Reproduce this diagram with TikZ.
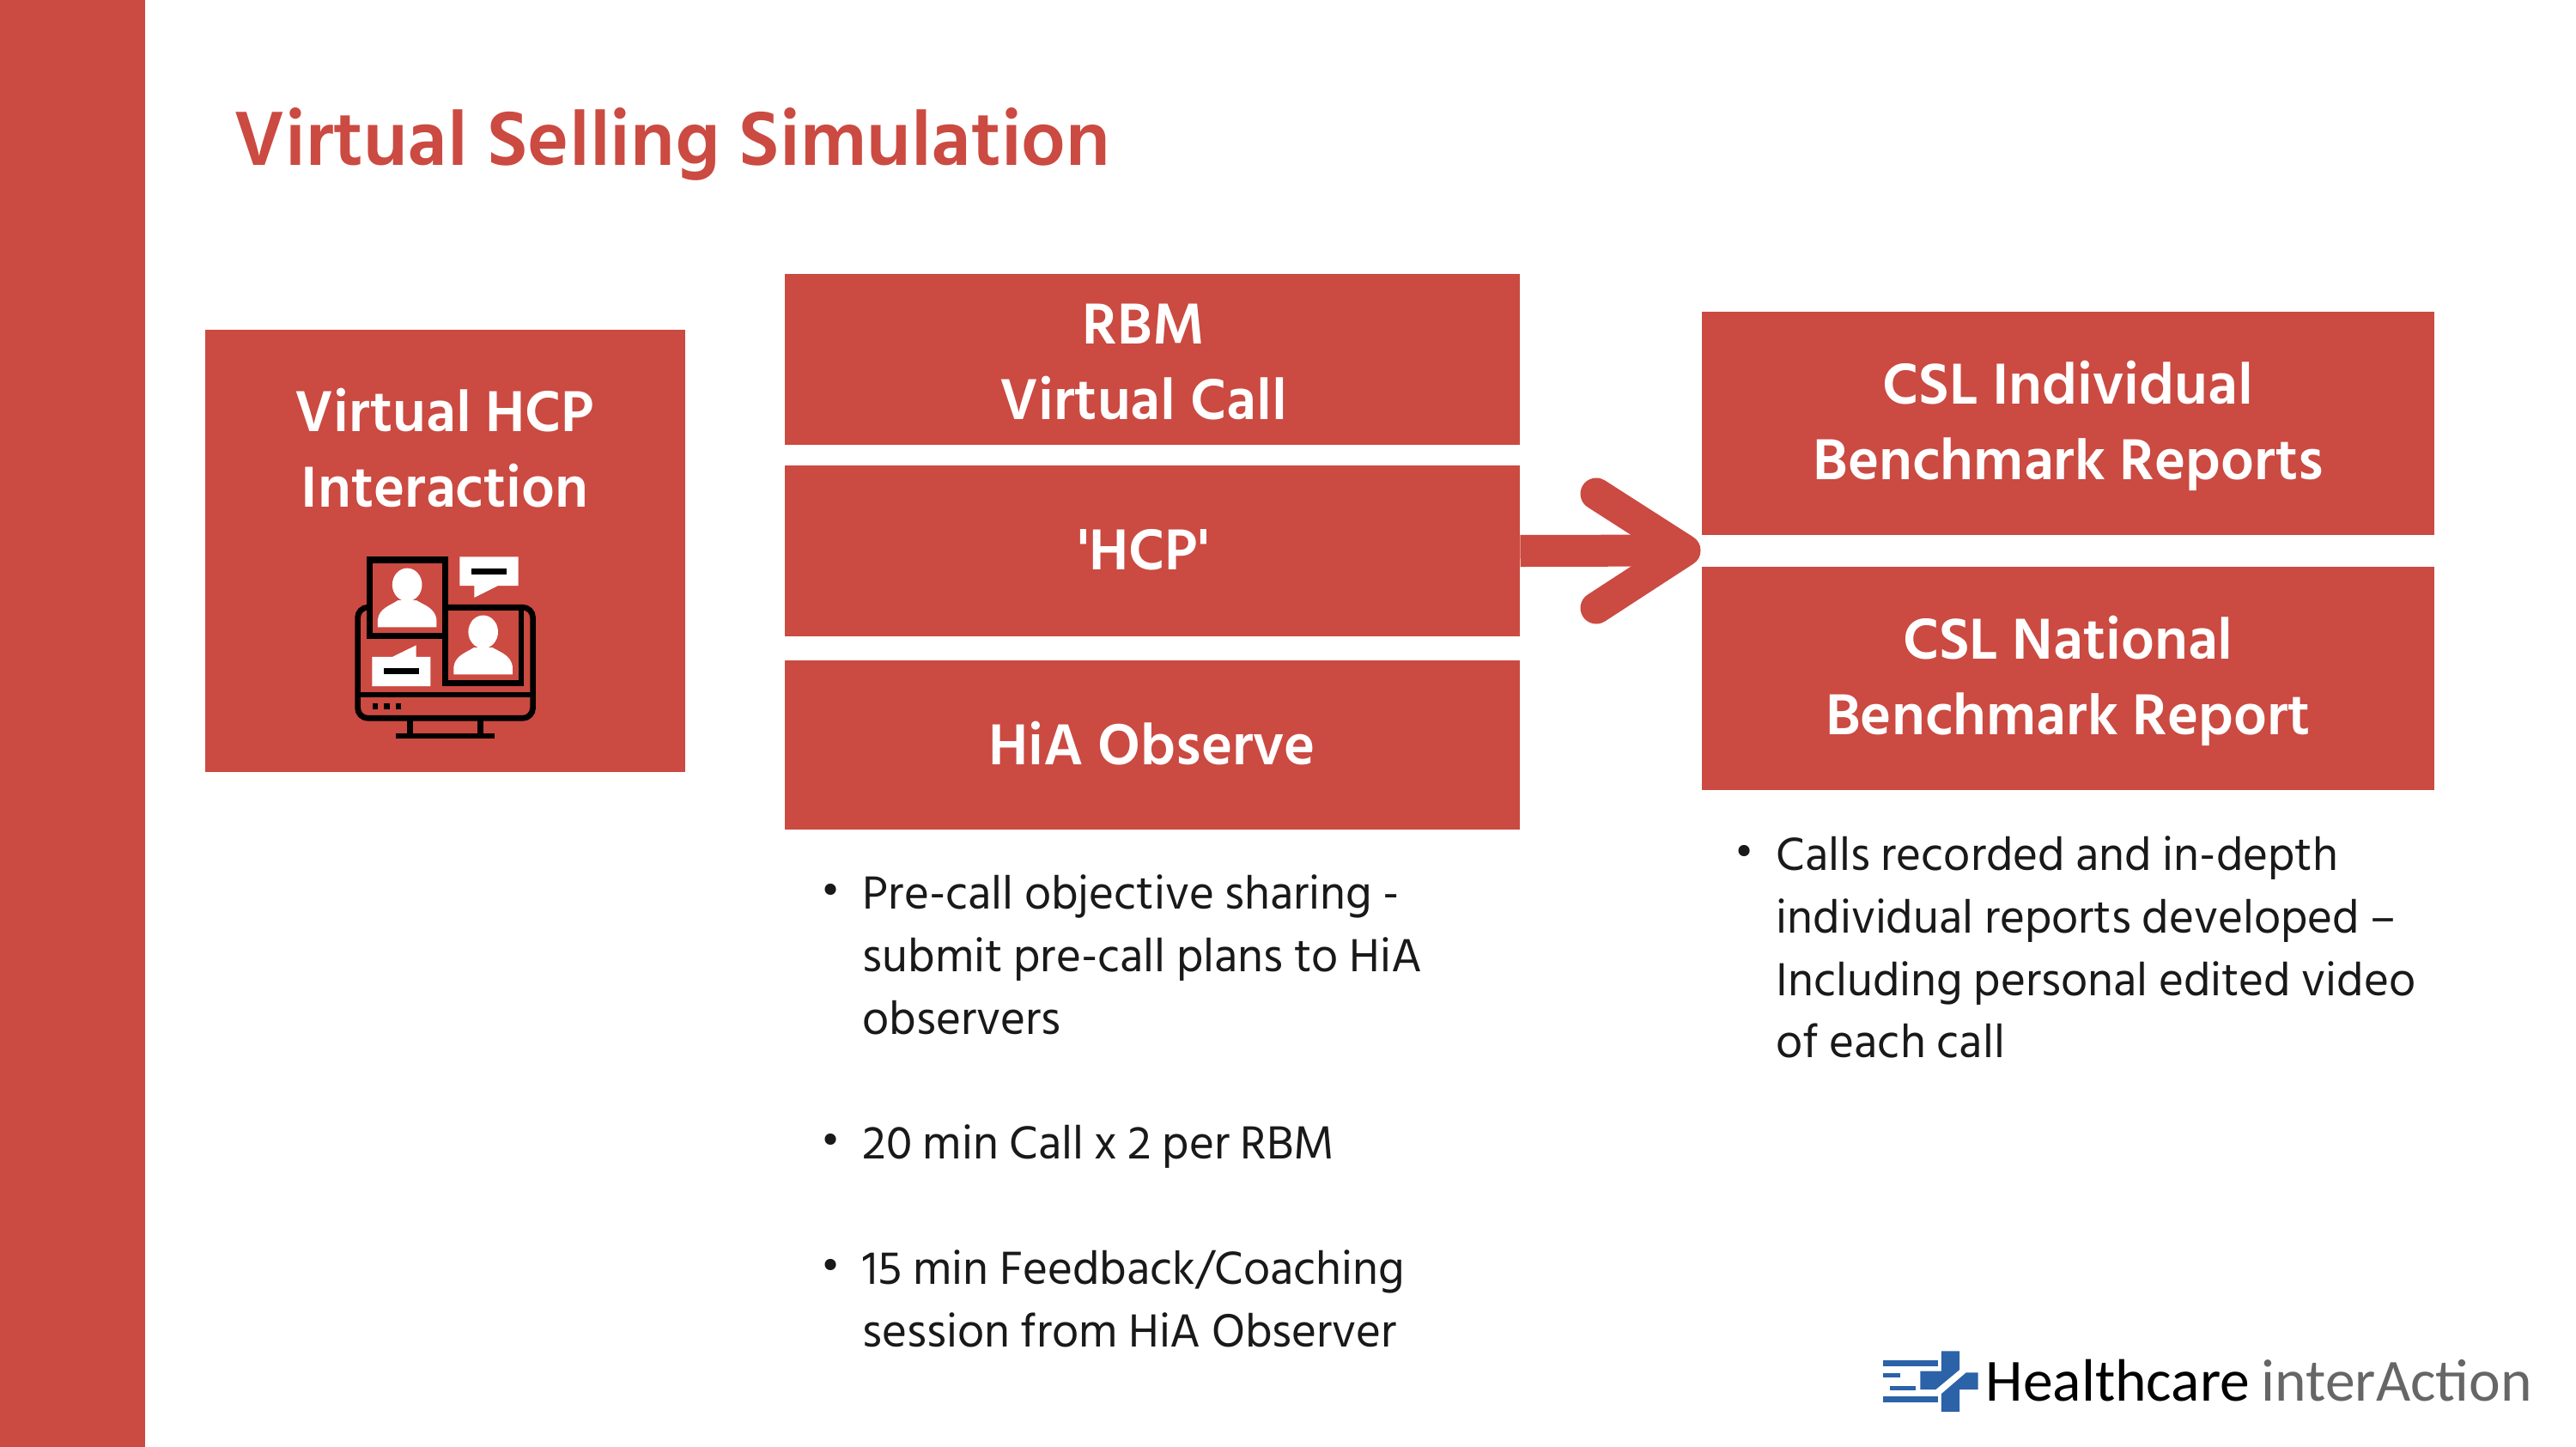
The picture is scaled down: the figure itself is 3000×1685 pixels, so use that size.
\documentclass[tikz,border=0pt]{standalone}
\usepackage{fontspec}
\setmainfont{Hind Siliguri}
\newfontfamily\logofont{Carlito}
\definecolor{slidered}{HTML}{CB4A41}
\definecolor{logoblue}{HTML}{2B62A8}
\definecolor{logogray}{HTML}{666666}
\tikzset{
  redbox/.style={fill=slidered,inner sep=0pt},
  boxlabel/.style={text=white,inner sep=0pt,align=center,font=\fontsize{19.6}{25}\selectfont\bfseries},
  bodytext/.style={anchor=north west,inner sep=0pt,align=left,text=black!90,font=\fontsize{15.78}{20.7}\selectfont},
  bulletdot/.style={inner sep=0pt,text=black!90,font=\fontsize{14}{20.7}\selectfont},
  iconline/.style={draw=black,line width=0.067cm},
}
\begin{document}
\begin{tikzpicture}[x=0.01cm,y=-0.01cm] % One unit is one pixel of the slide

% Fix the slide size
\useasboundingbox (0,0) rectangle (3000,1685);

% Draw the side bar
\fill[slidered] (0,0) rectangle (169,1685);

% Draw the title
\node[anchor=west,inner sep=0pt,text=slidered,font=\fontsize{26.05}{30}\selectfont\bfseries] (title) at (272,168) {Virtual Selling Simulation};

% Draw the boxes
\node[redbox,minimum width=5.59cm,minimum height=5.15cm] (hcpbox) at (518.5,641.5) {};
\node[redbox,minimum width=8.55cm,minimum height=1.99cm] (rbm) at (1342,418.5) {};
\node[redbox,minimum width=8.55cm,minimum height=1.99cm] (hcp) at (1342,641.5) {};
\node[redbox,minimum width=8.55cm,minimum height=1.97cm] (observe) at (1342,867.5) {};
\node[redbox,minimum width=8.53cm,minimum height=2.60cm] (individual) at (2408.5,493) {};
\node[redbox,minimum width=8.53cm,minimum height=2.60cm] (national) at (2408.5,790) {};

% Draw the box labels
\node[boxlabel] (hcplabel) at (518,522) {Virtual HCP\\Interaction};
\node[boxlabel] (rbmlabel) at (1332,422) {RBM\\Virtual Call};
\node[boxlabel] (hcptext) at (1332,640) {\textquotesingle HCP\textquotesingle};
\node[boxlabel] (observelabel) at (1342,866) {HiA Observe};
\node[boxlabel] (individuallabel) at (2408.5,496) {CSL Individual\\Benchmark Reports};
\node[boxlabel] (nationallabel) at (2408.5,793) {CSL National\\Benchmark Report};

% Draw the big arrow
\coordinate (tip) at (1962,641);
\coordinate (headtop) at (1859,575);
\coordinate (headbottom) at (1859,708);
\draw[slidered,line width=0.37cm] (hcp.east) -- (tip);
\draw[slidered,line width=0.37cm,line cap=round,line join=round] (headtop) -- (tip) -- (headbottom);

% Draw the bullet lists
\node[bodytext] (precall) at (1004,1018) {Pre-call objective sharing -\\submit pre-call plans to HiA\\observers};
\node[bodytext] (twenty) at (1004,1309) {20 min Call x 2 per RBM};
\node[bodytext] (fifteen) at (1004,1455) {15 min Feedback/Coaching\\session from HiA Observer};
\node[bodytext] (recorded) at (2068,973) {Calls recorded and in-depth\\individual reports developed –\\Including personal edited video\\of each call};
\node[bulletdot,anchor=north] (dota) at (968,1029) {•};
\node[bulletdot,anchor=north] (dotb) at (968,1320) {•};
\node[bulletdot,anchor=north] (dotc) at (968,1466) {•};
\node[bulletdot,anchor=north] (dotd) at (2032,984) {•};

% Draw the computer icon
\begin{scope}[shift={(380,620)},x=0.00333cm,y=-0.00333cm]
  % Monitor and stand
  \draw[iconline,rounded corners=0.12cm] (110,262) rectangle (723,650);
  \draw[iconline] (110,568) -- (723,568);
  \draw[iconline] (293,650) -- (293,712) (540,650) -- (540,712) (242,712) -- (590,712);
  \foreach \x in {171,211,252} {
    \fill[black] (\x-10,599) rectangle (\x+10,619);
  }
  % Two windows
  \draw[iconline,fill=slidered] (417,262) rectangle (682,527);
  \draw[iconline,fill=slidered,line width=0.073cm] (151,96) rectangle (416,362);
  % Two people
  \foreach \dx/\dy in {0/0,266/165} {
    \begin{scope}[shift={(\dx,\dy)}]
      \fill[white] (283,183) ellipse[x radius=52,y radius=58];
      \fill[white] (180,332) -- (180,305) .. controls (185,265) and (225,255) .. (250,238) -- (316,238) .. controls (345,255) and (380,265) .. (386,305) -- (386,332) -- cycle;
    \end{scope}
  }
  % Two speech bubbles
  \fill[white] (467,85) -- (672,85) -- (672,187) -- (600,187) -- (518,228) -- (518,187) -- (467,187) -- cycle;
  \fill[black] (508,127) rectangle (631,147);
  \fill[white] (160,435) -- (232,435) -- (314,395) -- (314,435) -- (365,435) -- (365,538) -- (160,538) -- cycle;
  \fill[black] (201,476) rectangle (324,496);
\end{scope}

% Draw the logo
\begin{scope}[shift={(2170,1540)},x=0.0051cm,y=-0.00333cm]
  \fill[logoblue] (178,100) -- (220,100) -- (220,165) -- (165,235) -- (130,235) -- (130,170) -- (178,170) -- cycle;
  \fill[logoblue] (262,175) -- (262,235) -- (220,235) -- (220,312) -- (178,312) -- (178,250) -- (235,175) -- cycle;
  \fill[logoblue] (45,132) rectangle (170,152);
  \fill[logoblue] (45,178) rectangle (85,192);
  \fill[logoblue] (60,222) rectangle (120,238);
  \fill[logoblue] (45,258) rectangle (170,278);
\end{scope}
\node[anchor=base west,inner sep=0pt,font=\logofont\fontsize{19.8}{22}\selectfont] (healthcare) at (2312,1631) {Healthcare};
\node[anchor=base west,inner sep=0pt,text=logogray,font=\logofont\fontsize{19.8}{22}\selectfont] (interaction) at (2633,1631) {interAction};

\end{tikzpicture}
\end{document}
